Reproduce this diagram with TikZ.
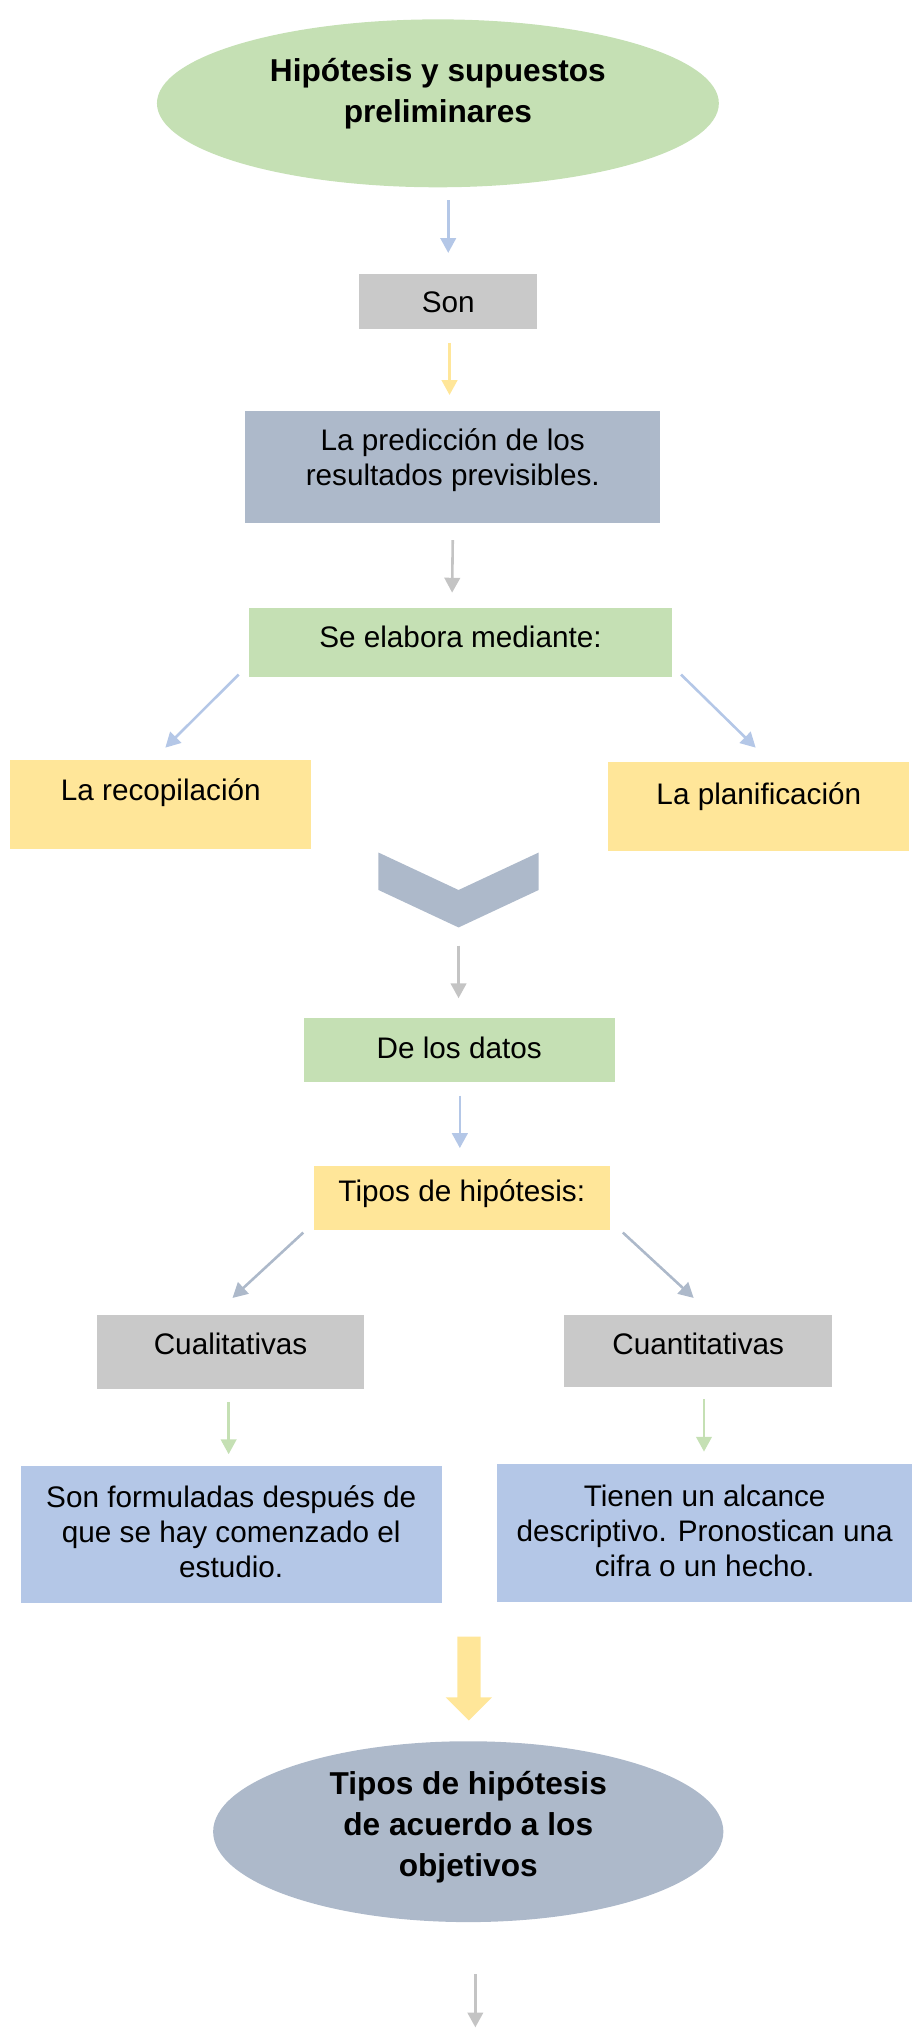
\documentclass[tikz,border=0pt]{standalone}
\usepackage{fontspec}
\setmainfont{Liberation Sans}
\usetikzlibrary{arrows.meta,shapes.geometric}
\definecolor{cgreen}{HTML}{C5E0B4}
\definecolor{cblue}{HTML}{B4C7E7}
\definecolor{cgray}{HTML}{C9C9C9}
\definecolor{cyellow}{HTML}{FFE699}
\definecolor{cslate}{HTML}{ADB9CA}
\definecolor{carrgray}{HTML}{C4C4C4}
\begin{document}
\begin{tikzpicture}[x=1pt,y=-1pt,
  box/.style={rectangle, draw=none, inner sep=0pt},
  oval/.style={ellipse, draw=none, inner sep=0pt},
  txt/.style={font=\fontsize{23}{27}\selectfont, align=center, inner sep=0pt},
  btxt/.style={font=\fontsize{24.5}{32}\selectfont\bfseries, align=center, inner sep=0pt},
  arr/.style={line width=2pt, -{Triangle[length=11.5pt,width=12pt]}},
]
\useasboundingbox (0,0) rectangle (708.3,1570);

% top ellipse
\node[oval, fill=cgreen, minimum width=435pt, minimum height=130pt] (ell1) at (339,80) {};
\node[btxt] (ell1T) at (339,72.5) {Hipótesis y supuestos\\preliminares};

% Son
\node[box, fill=cgray, minimum width=138pt, minimum height=43pt] (son) at (347,233.5) {};
\node[txt] (sonT) at (347,234) {Son};

% prediccion
\node[box, fill=cslate, minimum width=321pt, minimum height=87pt] (pred) at (350.5,361.5) {};
\node[txt] (predT) at (350.5,356) {La predicción de los\\resultados previsibles.};

% se elabora
\node[box, fill=cgreen, minimum width=327pt, minimum height=53pt] (elab) at (356.5,497.5) {};
\node[txt] (elabT) at (356.5,493) {Se elabora mediante:};

% recopilacion / planificacion
\node[box, fill=cyellow, minimum width=233pt, minimum height=69pt] (recop) at (124.5,622.5) {};
\node[txt] (recopT) at (124.5,614) {La recopilación};
\node[box, fill=cyellow, minimum width=233pt, minimum height=69pt] (plan) at (587.5,624.5) {};
\node[txt] (planT) at (587.5,617) {La planificación};

% chevron
\fill[cslate] (293,660) -- (293,689) -- (355,718) -- (417,689) -- (417,660) -- (355,689) -- cycle;
\coordinate (chev) at (355,718);

% de los datos
\node[box, fill=cgreen, minimum width=241pt, minimum height=50pt] (datos) at (355.5,813) {};
\node[txt] (datosT) at (355.5,811) {De los datos};

% tipos
\node[box, fill=cyellow, minimum width=229pt, minimum height=49pt] (tipos) at (357.5,927.5) {};
\node[txt] (tiposT) at (357.5,924) {Tipos de hipótesis:};

% cualitativas / cuantitativas
\node[box, fill=cgray, minimum width=207pt, minimum height=57pt] (cual) at (178.5,1046.5) {};
\node[txt] (cualT) at (178.5,1040) {Cualitativas};
\node[box, fill=cgray, minimum width=207pt, minimum height=56pt] (cuan) at (540.5,1046) {};
\node[txt] (cuanT) at (540.5,1040) {Cuantitativas};

% descriptions
\node[box, fill=cblue, minimum width=326pt, minimum height=106pt] (desc1) at (179,1188) {};
\node[txt] (desc1T) at (179,1186) {Son formuladas después de\\que se hay comenzado el\\estudio.};
\node[box, fill=cblue, minimum width=321pt, minimum height=107pt] (desc2) at (545.5,1186.5) {};
\node[txt] (desc2T) at (545.5,1185) {Tienen un alcance\\descriptivo. Pronostican una\\cifra o un hecho.};

% big yellow arrow
\fill[cyellow] (354,1267) -- (372,1267) -- (372,1314) -- (381,1314) -- (363,1332) -- (345,1314) -- (354,1314) -- cycle;

% bottom ellipse
\node[oval, fill=cslate, minimum width=395pt, minimum height=140pt] (ell2) at (362.5,1418) {};
\node[btxt] (ell2T) at (362.5,1414.5) {Tipos de hipótesis\\de acuerdo a los\\objetivos};

\coordinate (endpt) at (368,1569.5);

% connectors
\draw[arr, cblue] ([xshift=8pt,yshift=-10pt]ell1.south) -- ([yshift=16pt]son.north);
\draw[arr, cyellow] ([xshift=1pt,yshift=-10pt]son.south) -- ([xshift=-2.5pt,yshift=12pt]pred.north);
\draw[arr, carrgray] ([yshift=-13pt]pred.south) -- ([xshift=-6.5pt,yshift=12pt]elab.north);
\draw[arr, cblue] ([xshift=-8pt,yshift=2pt]elab.south west) -- ([xshift=3.5pt,yshift=9pt]recop.north);
\draw[arr, cblue] ([xshift=7pt,yshift=2pt]elab.south east) -- ([xshift=-2.5pt,yshift=11pt]plan.north);
\draw[arr, carrgray] ([yshift=-14pt]chev) -- ([xshift=-0.5pt,yshift=15pt]datos.north);
\draw[arr, cblue] ([xshift=0.5pt,yshift=-10pt]datos.south) -- ([xshift=-1.5pt,yshift=14pt]tipos.north);
\draw[arr, cslate] ([xshift=-8pt,yshift=-2pt]tipos.south west) -- ([xshift=1.5pt,yshift=13pt]cual.north);
\draw[arr, cslate] ([xshift=10pt,yshift=-2pt]tipos.south east) -- ([xshift=-3.5pt,yshift=13pt]cuan.north);
\draw[arr, cgreen] ([xshift=-1.5pt,yshift=-10pt]cual.south) -- ([xshift=-2pt,yshift=9pt]desc1.north);
\draw[arr, cgreen] ([xshift=4.5pt,yshift=-9pt]cuan.south) -- ([xshift=-0.5pt,yshift=9pt]desc2.north);
\draw[arr, carrgray] ([xshift=5.5pt,yshift=-40pt]ell2.south) -- (endpt);
\end{tikzpicture}
\end{document}
